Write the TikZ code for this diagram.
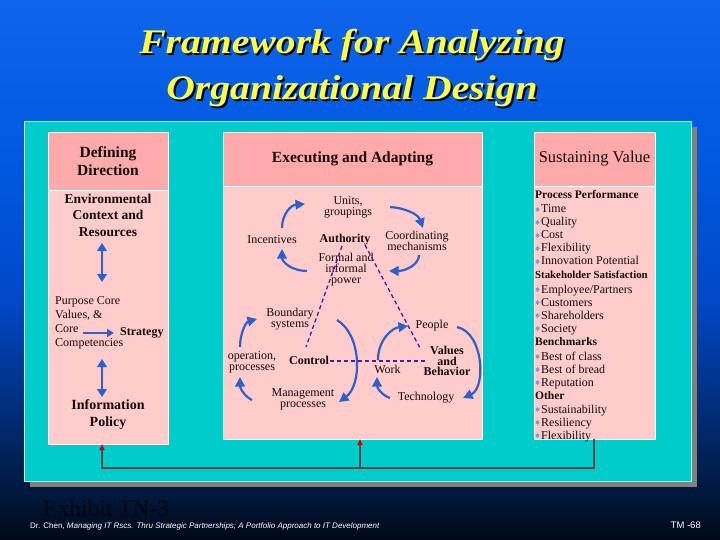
\documentclass[tikz,border=0pt]{standalone}
\usepackage{fontspec}
\setmainfont{Liberation Serif}
\newfontfamily\titlefont[FakeStretch=1.15]{Liberation Serif}
\newfontfamily\footfont{Liberation Sans}
\usetikzlibrary{arrows.meta}

\definecolor{cyanpanel}{RGB}{0,204,204}
\definecolor{shadowgray}{RGB}{128,128,128}
\definecolor{hdrpink}{RGB}{255,170,170}
\definecolor{bodypink}{RGB}{255,204,204}
\definecolor{arrowblue}{RGB}{45,95,205}
\definecolor{dashpurple}{RGB}{75,25,165}
\definecolor{linkgray}{RGB}{90,70,70}
\definecolor{tipred}{RGB}{210,0,0}
\definecolor{titleyellow}{RGB}{255,255,60}
\definecolor{bulletblue}{RGB}{130,150,220}
\definecolor{inkdark}{RGB}{20,10,10}
\definecolor{exhibitcol}{RGB}{2,6,18}
\definecolor{bgA}{RGB}{0,8,22}
\definecolor{bgB}{RGB}{2,22,55}
\definecolor{bgC}{RGB}{0,38,100}
\definecolor{bgD}{RGB}{0,72,200}
\definecolor{bgE}{RGB}{0,90,225}
\definecolor{bgF}{RGB}{15,100,235}

\pgfdeclareverticalshading{slidebg}{100bp}{color(0bp)=(bgA); color(25bp)=(bgA); color(28.7bp)=(bgB); color(34.3bp)=(bgC); color(47.2bp)=(bgD); color(61bp)=(bgE); color(75bp)=(bgF); color(100bp)=(bgF)}

\newcommand{\shadowtitle}[1]{\makebox[0pt][l]{\hspace{2bp}\raisebox{-2bp}{\textcolor{black}{#1}}}\textcolor{titleyellow}{#1}}

\begin{document}
\begin{tikzpicture}[x=1bp,y=-1bp,
  hdrbox/.style={draw=white, line width=0.7bp, fill=hdrpink, inner sep=0pt, outer sep=0pt, text=inkdark, align=center},
  bodybox/.style={draw=white, line width=0.7bp, fill=bodypink, inner sep=0pt, outer sep=0pt},
  txt/.style={inner sep=0pt, text=inkdark, align=center, font=\fontsize{12bp}{11bp}\selectfont},
  btxt/.style={inner sep=0pt, text=inkdark, align=center, font=\bfseries\fontsize{12bp}{10.5bp}\selectfont},
  lhead/.style={inner sep=0pt, text=inkdark, anchor=base west, font=\bfseries\fontsize{11.5bp}{12bp}\selectfont},
  litem/.style={inner sep=0pt, text=inkdark, anchor=base west, font=\fontsize{12bp}{12bp}\selectfont},
  cyc/.style={draw=arrowblue, line width=2.2bp, -{Triangle[length=9.5bp,width=9.5bp]}},
  dbl/.style={draw=arrowblue, line width=2.8bp, {Triangle[length=8bp,width=9.5bp]}-{Triangle[length=8bp,width=9.5bp]}},
  dashline/.style={draw=dashpurple, line width=1.3bp, dash pattern=on 4bp off 3bp},
  link/.style={draw=linkgray, line width=2bp},
  redtip/.style={-{Triangle[tipred,length=6bp,width=5bp]}},
  titletxt/.style={inner sep=0pt, anchor=base, font=\titlefont\bfseries\itshape\fontsize{34.5bp}{40bp}\selectfont}
]
\useasboundingbox (0,0) rectangle (720,540);
\shade[shading=slidebg] (0,0) rectangle (720,540);

% title
\node[titletxt] (t1) at (352,54) {\shadowtitle{Framework for Analyzing}};
\node[titletxt] (t2) at (352,100) {\shadowtitle{Organizational Design}};

% panel
\fill[shadowgray] (30,127) rectangle (697,487);
\fill[cyanpanel] (24,121) rectangle (691,481);
\draw[white!70!cyanpanel, line width=0.8bp] (24,121) rectangle (691,481);

% boxes
\node[hdrbox, minimum width=120bp, minimum height=58bp, font=\bfseries\fontsize{15.5bp}{18bp}\selectfont] (lhdr) at (108,161) {Defining\\Direction};
\node[bodybox, minimum width=120bp, minimum height=254bp] (lbody) at (108,317) {};
\node[hdrbox, minimum width=259bp, minimum height=54bp, font=\bfseries\fontsize{15.5bp}{18bp}\selectfont] (chdr) at (352.5,159) {Executing and Adapting};
\node[bodybox, minimum width=259bp, minimum height=253bp] (cbody) at (352.5,312.5) {};
\node[hdrbox, minimum width=121bp, minimum height=54bp, font=\fontsize{16.5bp}{18bp}\selectfont] (rhdr) at (594.5,159) {Sustaining Value};
\node[bodybox, minimum width=121bp, minimum height=253bp] (rbody) at (594.5,312.5) {};

% left column
\node[inner sep=0pt, text=inkdark, align=center, font=\bfseries\fontsize{13.5bp}{16.5bp}\selectfont] (env) at (108,215) {Environmental\\Context and\\Resources};
\node[inner sep=0pt, text=inkdark, align=left, anchor=west, font=\fontsize{12bp}{14bp}\selectfont] (purp) at (55,323) {Purpose Core\\Values, \&\\Core\\Competencies};
\node[inner sep=0pt, text=inkdark, anchor=west, font=\bfseries\fontsize{12bp}{14bp}\selectfont] (strat) at (120,333) {Strategy};
\node[inner sep=0pt, text=inkdark, align=center, font=\bfseries\fontsize{14bp}{17bp}\selectfont] (info) at (108,415) {Information\\Policy};
\coordinate (la1) at (102,243);
\coordinate (la2) at (102,282);
\coordinate (la3) at (102,359);
\coordinate (la4) at (102,397);
\coordinate (la5) at (83,333);
\draw[dbl] (la1) -- (la2);
\draw[dbl] (la3) -- (la4);
\draw[draw=arrowblue, line width=2.8bp, -{Triangle[length=7bp,width=8bp]}, shorten >=6bp] (la5) -- (strat.west);

% centre column texts
\node[txt] (units) at (348,207) {Units,\\groupings};
\node[txt] (incent) at (272,240) {Incentives};
\node[btxt] (auth) at (345,240) {Authority};
\node[txt] (coord) at (417,241) {Coordinating\\mechanisms};
\node[txt] (formal) at (346,270) {Formal and\\informal\\power};
\node[txt] (bound) at (290,319) {Boundary\\systems};
\node[txt] (people) at (432,326) {People};
\node[txt] (oper) at (252,362) {operation,\\processes};
\node[btxt] (control) at (309,360) {Control};
\node[txt] (work) at (387.5,369) {Work};
\node[btxt] (values) at (447,361) {Values\\and\\Behavior};
\node[txt] (mgmt) at (303,399) {Management\\processes};
\node[txt] (tech) at (426,398) {Technology};

% dashed triangle
\coordinate (d1a) at (342,246);
\coordinate (d1b) at (306,347);
\coordinate (d2a) at (365,245);
\coordinate (d2b) at (420,348);
\coordinate (d3a) at (330,361);
\coordinate (d3b) at (426,361);
\draw[dashline] (d1a) -- (d1b);
\draw[dashline] (d2a) -- (d2b);
\draw[dashline] (d3a) -- (d3b);

% top cycle
\coordinate (t1a) at (282,228); \coordinate (t1b) at (305,204);
\coordinate (t2a) at (390,207); \coordinate (t2b) at (423,228);
\coordinate (t3a) at (419,255); \coordinate (t3b) at (389,271);
\coordinate (t4a) at (307,271); \coordinate (t4b) at (282,249);
\draw[cyc] (t1a) .. controls (282,214) and (291,205) .. (t1b);
\draw[cyc] (t2a) .. controls (405,208) and (418,214) .. (t2b);
\draw[cyc] (t3a) .. controls (419,265) and (405,271) .. (t3b);
\draw[cyc] (t4a) .. controls (292,271) and (282,262) .. (t4b);

% bottom-left cycle
\coordinate (l1a) at (240,347); \coordinate (l1b) at (257,319);
\coordinate (l2a) at (337,320); \coordinate (l2b) at (339,402);
\coordinate (l3a) at (252,400); \coordinate (l3b) at (240,377);
\draw[cyc] (l1a) .. controls (240,333) and (246,322) .. (l1b);
\draw[cyc] (l2a) .. controls (362,335) and (362,385) .. (l2b);
\draw[cyc] (l3a) .. controls (244,396) and (240,388) .. (l3b);

% bottom-right cycle
\coordinate (r1a) at (378,360); \coordinate (r1b) at (408,326);
\coordinate (r2a) at (457,327); \coordinate (r2b) at (463,398);
\coordinate (r3a) at (390,398); \coordinate (r3b) at (377,377);
\draw[cyc] (r1a) .. controls (378,340) and (392,328) .. (r1b);
\draw[cyc] (r2a) .. controls (484,333) and (486,388) .. (r2b);
\draw[cyc] (r3a) .. controls (381,395) and (377,387) .. (r3b);

% right column list
\foreach \yy/\txt [count=\i] in {199/Process Performance, 345/Benchmarks, 399/Other}
  \node[lhead] (rh\i) at (535,\yy) {\txt};
\node[lhead, font=\bfseries\fontsize{10.8bp}{12bp}\selectfont] (rhs) at (535,279) {Stakeholder Satisfaction};
\foreach \yy/\txt [count=\i] in {213/Time, 226/Quality, 239/Cost, 252/Flexibility, 265/Innovation Potential, 293/{Employee/Partners}, 306/Customers, 319/Shareholders, 332/Society, 360/Best of class, 373/Best of bread, 386/Reputation, 413/Sustainability, 426/Resiliency, 439/Flexibility}
{
  \node[litem] (ri\i) at (541,\yy) {\txt};
  \fill[bulletblue] (535.3,\yy-3.5) -- (537.5,\yy-6) -- (539.7,\yy-3.5) -- (537.5,\yy-1) -- cycle;
}

% feedback connector
\coordinate (b1) at (102,468);
\coordinate (b2) at (360,468);
\coordinate (b3) at (594,468);
\draw[link, redtip] (b3 |- rbody.south) -- (b3) -- (b1) -- (b1 |- lbody.south);
\draw[link, redtip] (b2) -- (b2 |- cbody.south);

% footer
\node[inner sep=0pt, anchor=base west, text=exhibitcol, font=\fontsize{23.5bp}{24bp}\selectfont] (exh) at (43,516) {Exhibit TN-3};
\node[inner sep=0pt, anchor=west, text=white, font=\footfont\fontsize{8bp}{9bp}\selectfont] (foot) at (30,526) {Dr. Chen, \textit{Managing IT Rscs. Thru Strategic Partnerships; A Portfolio Approach to IT Development}};
\node[inner sep=0pt, anchor=east, text=white, font=\footfont\fontsize{9.5bp}{10bp}\selectfont] (tm) at (701,525) {TM -68};
\end{tikzpicture}
\end{document}
